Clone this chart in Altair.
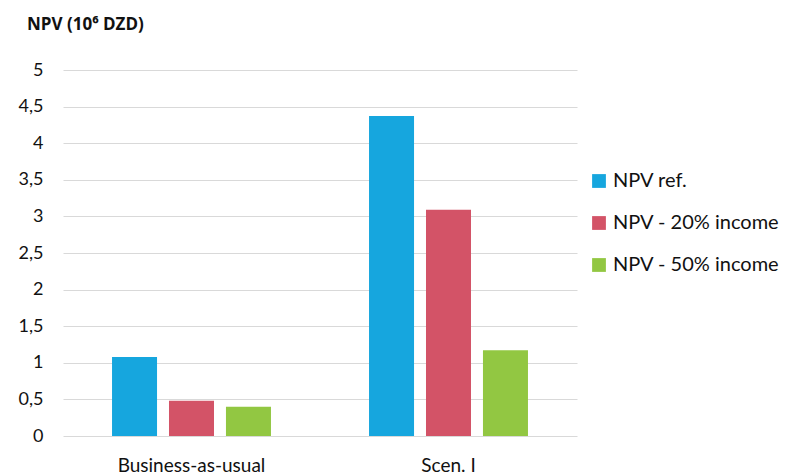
import altair as alt
import pandas as pd

categories = ["Business-as-usual", "Scen. I"]
series = ["NPV ref.", "NPV - 20% income", "NPV - 50% income"]
values_bau = [1.08, 0.48, 0.40]
values_scen = [4.37, 3.09, 1.17]
colors = ["#16a6de", "#d35367", "#92c742"]
y_ticks = [0, 0.5, 1, 1.5, 2, 2.5, 3, 3.5, 4, 4.5, 5]

rows = []
for s, v in zip(series, values_bau):
    rows.append({"cat": categories[0], "series": s, "value": v})
for s, v in zip(series, values_scen):
    rows.append({"cat": categories[1], "series": s, "value": v})
df = pd.DataFrame(rows)

font = "Lato"

chart = alt.Chart(df).mark_bar().encode(
    x=alt.X("cat:N", sort=categories, title=None,
            scale=alt.Scale(paddingInner=0.335, paddingOuter=0.1675),
            axis=alt.Axis(labelAngle=0, ticks=False, domain=False, labelPadding=20,
                          labelFontSize=19, labelColor="#111", labelFont=font)),
    xOffset=alt.XOffset("series:N", sort=series,
                        scale=alt.Scale(paddingInner=0.21, paddingOuter=0.105)),
    y=alt.Y("value:Q", title=None,
            scale=alt.Scale(domain=[0, 5], nice=False),
            axis=alt.Axis(values=y_ticks, ticks=False, domain=False,
                          labelExpr="replace(format(datum.value, '.1~f'), '.', ',')",
                          labelPadding=20, labelFontSize=18, labelColor="#111",
                          labelFont=font, gridColor="#d9d9d9", gridWidth=1.2)),
    color=alt.Color("series:N", sort=series,
                    scale=alt.Scale(domain=series, range=colors),
                    legend=alt.Legend(title=None, orient="none", legendX=526, legendY=101,
                                      symbolType="square", symbolSize=190,
                                      symbolStrokeWidth=0, labelFontSize=20,
                                      labelFont=font, labelColor="#111", labelLimit=300,
                                      rowPadding=22, labelOffset=4)),
).properties(
    width=514,
    height=366,
    title=alt.TitleParams("NPV (10⁶ DZD)", anchor="start", frame="group", dx=-36, offset=27,
                          fontSize=17, fontWeight="bold", font="Open Sans", color="#111"),
    autosize=alt.AutoSizeParams(type="none"),
    padding={"left": 63, "top": 70, "right": 221, "bottom": 38},
).configure_view(stroke=None)

chart.save("out.html", embed_options={"renderer": "svg", "actions": False})
